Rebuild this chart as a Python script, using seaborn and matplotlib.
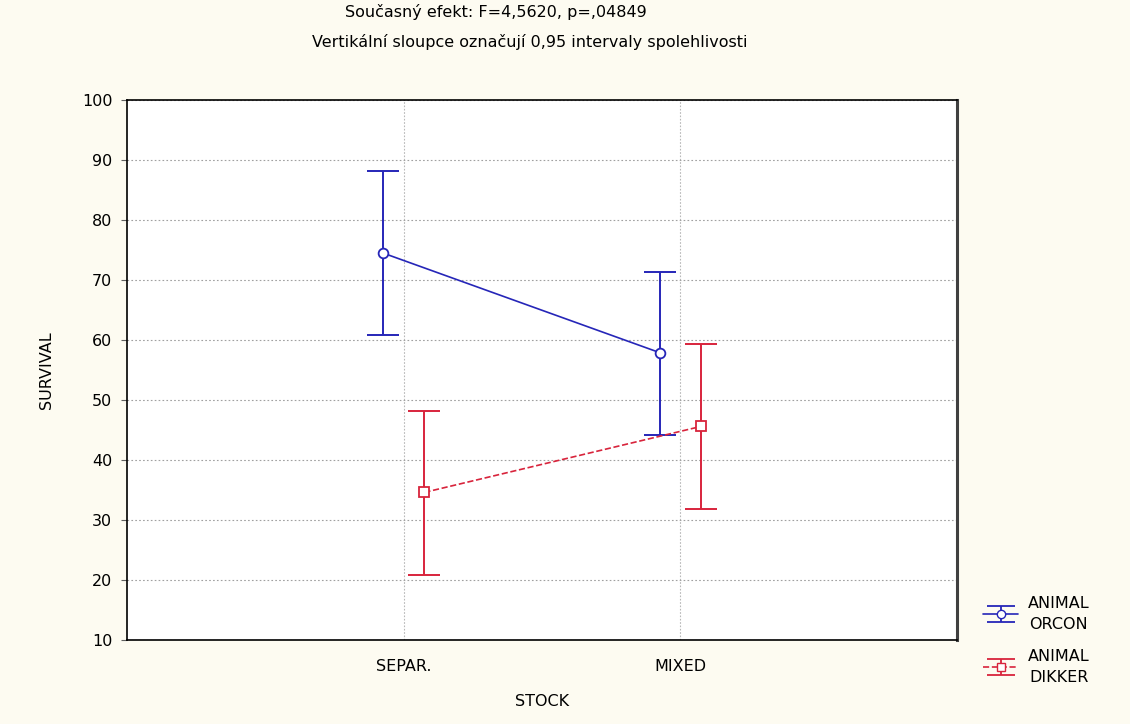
import numpy as np
import pandas as pd
import matplotlib
matplotlib.use("Agg")
import matplotlib.pyplot as plt
import seaborn as sns

# Cell means and 0.95 confidence limits of SURVIVAL by STOCK and ANIMAL
stock = ["SEPAR.", "MIXED"]
animals = ["ORCON", "DIKKER"]
orcon_mean = [74.5, 57.9]
orcon_lo = [60.8, 44.1]
orcon_hi = [88.2, 71.4]
dikker_mean = [34.6, 45.6]
dikker_lo = [20.8, 31.9]
dikker_hi = [48.2, 59.4]
y_ticks = [10, 20, 30, 40, 50, 60, 70, 80, 90, 100]

title_1 = "Současný efekt: F=4,5620, p=,04849"
title_2 = "Vertikální sloupce označují 0,95 intervaly spolehlivosti"

colors = {"ORCON": "#2626b8", "DIKKER": "#d8243c"}
bg = "#fdfbf1"
fs = 11.5

rows = []
for a, means, lo, hi in [("ORCON", orcon_mean, orcon_lo, orcon_hi),
                         ("DIKKER", dikker_mean, dikker_lo, dikker_hi)]:
    for s, m, l, h in zip(stock, means, lo, hi):
        rows.append({"STOCK": s, "ANIMAL": a, "SURVIVAL": m, "LO": l, "HI": h})
df = pd.DataFrame(rows)

sns.set_theme(style="white")
plt.rcParams["font.family"] = ["DejaVu Sans"]
plt.rcParams["text.color"] = "black"
plt.rcParams["axes.labelcolor"] = "black"
plt.rcParams["xtick.color"] = "black"
plt.rcParams["ytick.color"] = "black"

fig = plt.figure(figsize=(11.30, 7.24), dpi=100, facecolor=bg)
ax = fig.add_axes([127 / 1130, 1 - 640 / 724, (957 - 127) / 1130, (640 - 100) / 724])
ax.set_facecolor("white")

sns.pointplot(data=df, x="STOCK", y="SURVIVAL", hue="ANIMAL", order=stock,
              hue_order=animals, palette=colors, dodge=0.15, errorbar=None,
              markers=["o", "s"], linestyles=["-", "--"], ax=ax,
              legend=False)

# open markers, thin lines
for line in ax.lines:
    line.set_markerfacecolor("white")
    line.set_markersize(7)
    line.set_linewidth(1.2)
    line.set_markeredgewidth(1.3)

# confidence intervals at the dodged point positions
handles = []
for line, a in zip(ax.lines[:2], animals):
    sub = df[df["ANIMAL"] == a].set_index("STOCK").loc[stock]
    xs = np.asarray(line.get_xdata(), dtype=float)
    ys = sub["SURVIVAL"].to_numpy()
    yerr = np.vstack([ys - sub["LO"].to_numpy(), sub["HI"].to_numpy() - ys])
    ax.errorbar(xs, ys, yerr=yerr, fmt="none", ecolor=colors[a],
                elinewidth=1.4, capsize=11.5, capthick=1.4, zorder=2)
    h = ax.errorbar([np.nan], [np.nan], yerr=[np.nan], color=colors[a],
                    marker="o" if a == "ORCON" else "s", mfc="white", ms=6,
                    ls="-" if a == "ORCON" else "--", lw=1.2,
                    capsize=10, elinewidth=1.3, capthick=1.3)
    handles.append(h)
for line in ax.lines[:2]:
    line.set_zorder(3)

ax.set_xlim(-1, 2)
ax.set_ylim(10, 100)
ax.set_yticks(y_ticks)
ax.set_yticklabels([str(t) for t in y_ticks])
ax.set_xticks([0, 1])
ax.set_xticklabels(stock)

ax.grid(True, axis="y", color="#a0a0a0", linestyle=(0, (1.5, 2)), linewidth=0.8)
ax.grid(True, axis="x", color="#b8b8b8", linestyle=(0, (1.5, 1.5)), linewidth=0.8)
ax.set_axisbelow(True)

for sp in ax.spines.values():
    sp.set_color("black")
    sp.set_linewidth(1.2)
ax.spines["right"].set_linewidth(2.2)
ax.spines["right"].set_color("#404040")

ax.tick_params(axis="y", direction="out", length=4, width=0.8, color="#606060",
               labelsize=fs, pad=6.5, left=True)
ax.tick_params(axis="x", length=0, labelsize=fs, pad=14)

ax.set_xlabel("STOCK", fontsize=fs, labelpad=14)
ax.set_ylabel("SURVIVAL", fontsize=fs, labelpad=20)

fig.text(496 / 1130, 1 - 12 / 724, title_1, ha="center", va="center", fontsize=fs)
fig.text(530 / 1130, 1 - 42 / 724, title_2, ha="center", va="center", fontsize=fs)

leg = fig.legend(handles, ["ANIMAL\nORCON", "ANIMAL\nDIKKER"],
                 loc="upper left", bbox_to_anchor=(972 / 1130, 1 - 585 / 724),
                 frameon=False, fontsize=fs, handlelength=2.2,
                 handletextpad=0.6, labelspacing=1.1, borderpad=0.2)
for t in leg.get_texts():
    t.set_multialignment("center")
    t.set_linespacing(1.45)

fig.savefig("out.png", dpi=100, facecolor=bg)
